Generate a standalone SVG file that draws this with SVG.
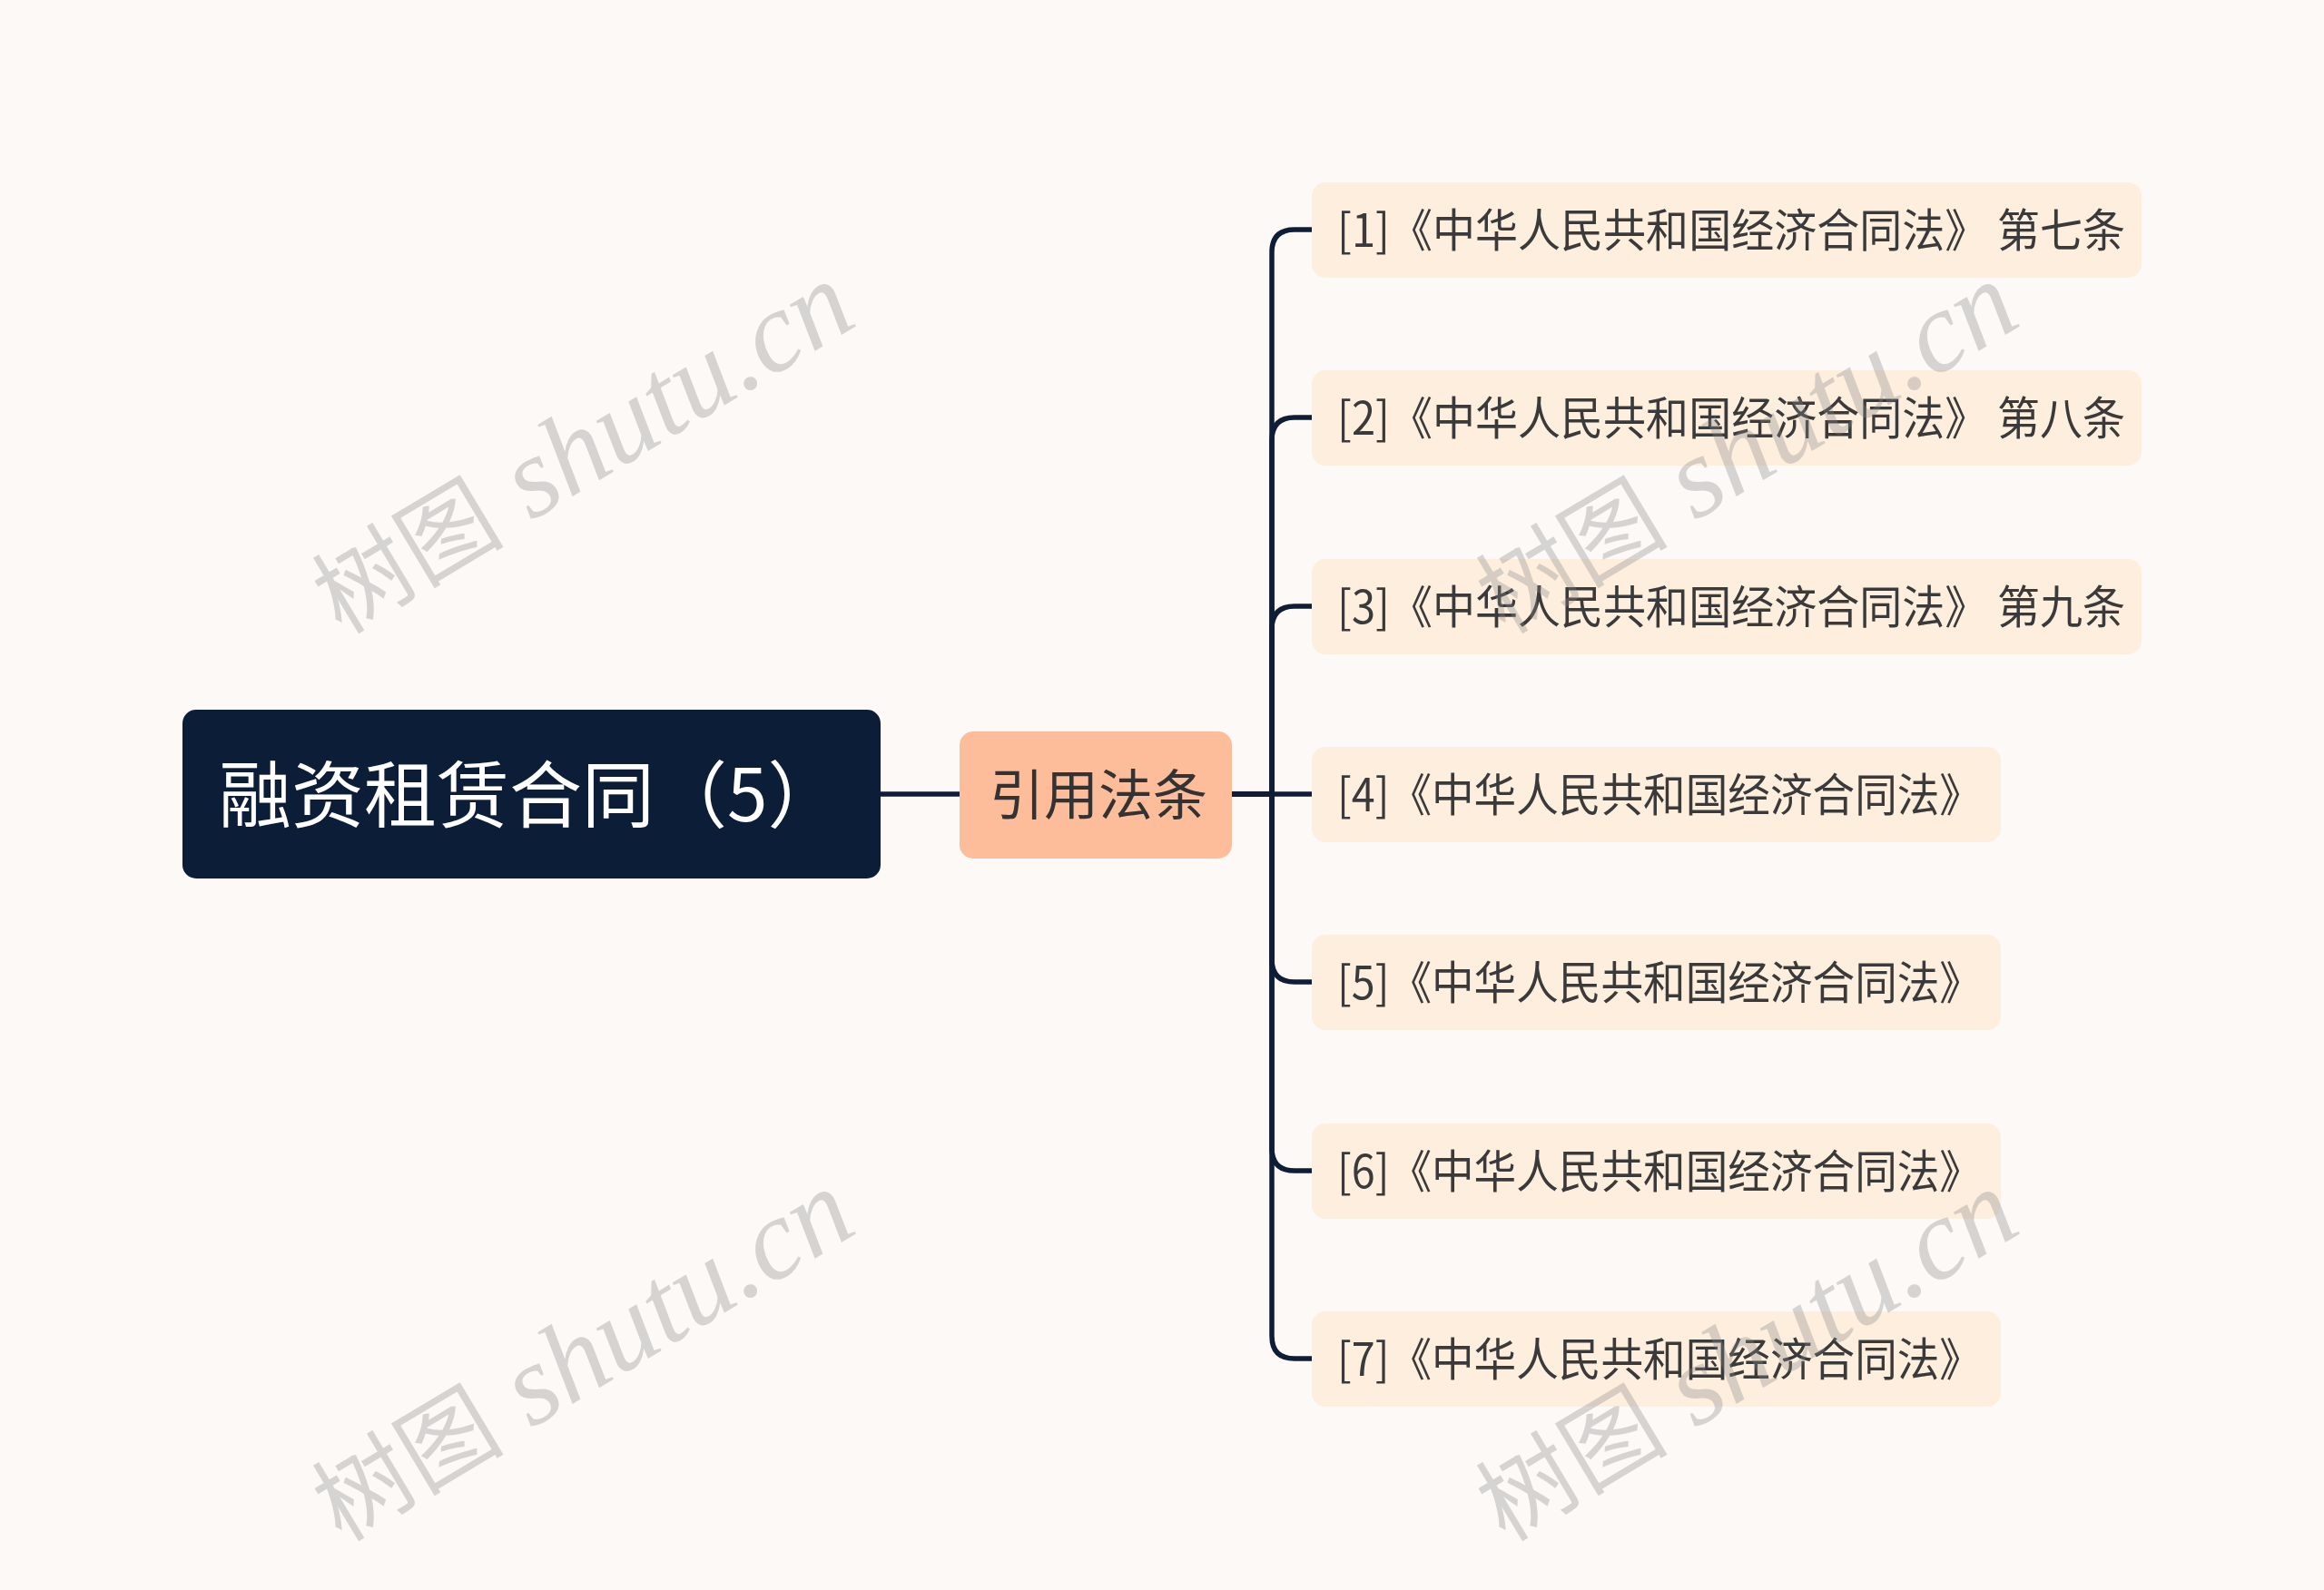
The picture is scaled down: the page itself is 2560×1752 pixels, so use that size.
<svg xmlns="http://www.w3.org/2000/svg" width="2560" height="1752" viewBox="0 0 2560 1752">
<style>
.cn{font-family:"Noto Sans CJK SC","Noto Sans",sans-serif;}
.root-t{fill:#ffffff;font-size:80px;}
.mid-t{fill:#333333;font-size:60px;}
.leaf-t{fill:#3a3a3a;font-size:50px;}
.leaf{fill:#fdeedd;}
.conn{fill:none;stroke:#0f1e36;stroke-width:5.5;stroke-linecap:round;stroke-linejoin:round;}
.wm{font-family:"Liberation Serif","Noto Sans CJK SC",serif;font-style:italic;font-size:126px;fill:#8a8a8a;fill-opacity:0.33;}
.wmc{font-size:106px;font-style:normal;}
</style>
<rect x="0" y="0" width="2560" height="1752" fill="#fcf9f7"/>
<g id="connectors">
<path class="conn" d="M970 875 H1057"/>
<path class="conn" d="M1357 875 H1401 V278 Q1401 253 1426 253 H1445"/>
<path class="conn" d="M1357 875 H1401 V485 Q1401 460 1426 460 H1445"/>
<path class="conn" d="M1357 875 H1401 V693 Q1401 668 1426 668 H1445"/>
<path class="conn" d="M1357 875 H1445"/>
<path class="conn" d="M1357 875 H1401 V1057 Q1401 1082 1426 1082 H1445"/>
<path class="conn" d="M1357 875 H1401 V1265 Q1401 1290 1426 1290 H1445"/>
<path class="conn" d="M1357 875 H1401 V1472 Q1401 1497 1426 1497 H1445"/>
</g>
<g id="root">
<rect x="201" y="782" width="769" height="186" rx="15" fill="#0c1d37"/>
<text class="cn root-t" x="241" y="905">融资租赁合同（5）</text>
</g>
<g id="mid">
<rect x="1057" y="806" width="300" height="140" rx="15" fill="#fdbd9b"/>
<text class="cn mid-t" x="1210" y="898" text-anchor="middle">引用法条</text>
</g>
<g id="leaf1">
<rect class="leaf" x="1445" y="201" width="914" height="105" rx="15"/>
<text class="cn leaf-t" x="1473" y="272" textLength="868" lengthAdjust="spacingAndGlyphs">[1]《中华人民共和国经济合同法》 第七条</text>
</g>
<g id="leaf2">
<rect class="leaf" x="1445" y="408" width="914" height="105" rx="15"/>
<text class="cn leaf-t" x="1473" y="479" textLength="868" lengthAdjust="spacingAndGlyphs">[2]《中华人民共和国经济合同法》 第八条</text>
</g>
<g id="leaf3">
<rect class="leaf" x="1445" y="616" width="914" height="105" rx="15"/>
<text class="cn leaf-t" x="1473" y="687" textLength="868" lengthAdjust="spacingAndGlyphs">[3]《中华人民共和国经济合同法》 第九条</text>
</g>
<g id="leaf4">
<rect class="leaf" x="1445" y="823" width="759" height="105" rx="15"/>
<text class="cn leaf-t" x="1473" y="894" textLength="710" lengthAdjust="spacingAndGlyphs">[4]《中华人民共和国经济合同法》</text>
</g>
<g id="leaf5">
<rect class="leaf" x="1445" y="1030" width="759" height="105" rx="15"/>
<text class="cn leaf-t" x="1473" y="1101" textLength="710" lengthAdjust="spacingAndGlyphs">[5]《中华人民共和国经济合同法》</text>
</g>
<g id="leaf6">
<rect class="leaf" x="1445" y="1238" width="759" height="105" rx="15"/>
<text class="cn leaf-t" x="1473" y="1309" textLength="710" lengthAdjust="spacingAndGlyphs">[6]《中华人民共和国经济合同法》</text>
</g>
<g id="leaf7">
<rect class="leaf" x="1445" y="1445" width="759" height="105" rx="15"/>
<text class="cn leaf-t" x="1473" y="1516" textLength="710" lengthAdjust="spacingAndGlyphs">[7]《中华人民共和国经济合同法》</text>
</g>
<g id="watermarks">
<text class="wm" transform="translate(376 700) rotate(-31)"><tspan class="wmc">树图</tspan> shutu.cn</text>
<text class="wm" transform="translate(1658 700) rotate(-31)"><tspan class="wmc">树图</tspan> shutu.cn</text>
<text class="wm" transform="translate(376 1700) rotate(-31)"><tspan class="wmc">树图</tspan> shutu.cn</text>
<text class="wm" transform="translate(1658 1700) rotate(-31)"><tspan class="wmc">树图</tspan> shutu.cn</text>
</g>
</svg>
